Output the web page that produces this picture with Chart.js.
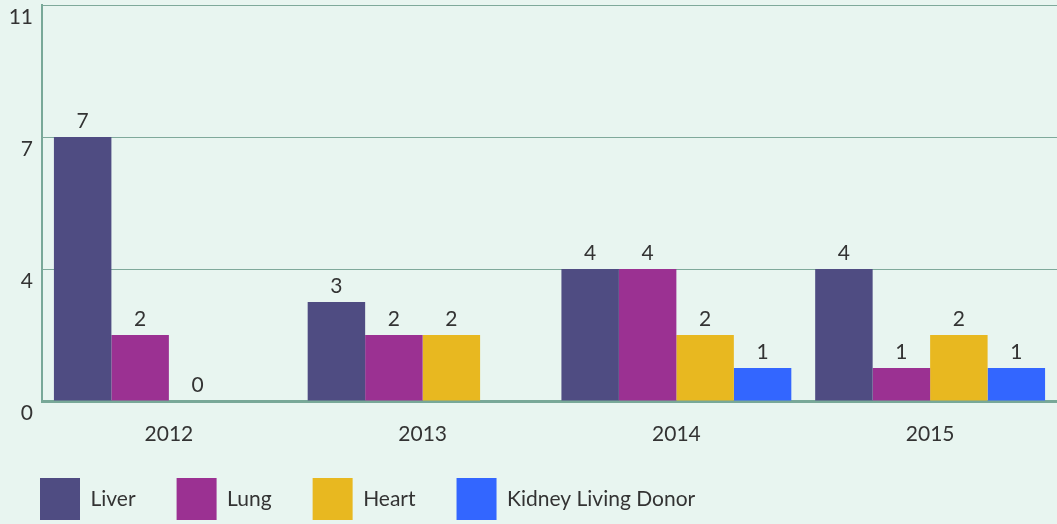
<!DOCTYPE html>
<html>
<head>
<meta charset="utf-8">
<script src="https://cdn.jsdelivr.net/npm/chart.js@4.4.1/dist/chart.umd.min.js"></script>
<style>
    html, body { margin: 0; padding: 0; background: #e8f5f0; }
    #wrap { width: 1057px; height: 524px; position: relative; }
</style>
</head>
<body>
<div id="wrap"><canvas id="transplantChart"></canvas></div>
<script>
const years = ['2012', '2013', '2014', '2015'];
const liver = [7, 3, 4, 4];
const lung = [2, 2, 4, 1];
const heart = [0, 2, 2, 2];
const kidney = [null, null, 1, 1];
const yTicks = [0, 4, 7, 11];

// the y axis spaces its ticks evenly, values between ticks are placed linearly
function toAxis(v) {
    if (v === null) return null;
    for (let i = 1; i < yTicks.length; i++) {
        if (v <= yTicks[i]) {
            return (i - 1) + (v - yTicks[i - 1]) / (yTicks[i] - yTicks[i - 1]);
        }
    }
    return yTicks.length - 1;
}

const font = 'Lato';
const textColor = '#333333';

const valueLabels = {
    id: 'valueLabels',
    afterLayout(chart) {
        // let the year labels draw below the (short) x axis box without being clipped
        chart.scales.x.bottom = chart.height;
    },
    afterDatasetsDraw(chart) {
        const ctx = chart.ctx;
        ctx.save();
        ctx.font = `21px ${font}`;
        ctx.fillStyle = textColor;
        ctx.textAlign = 'center';
        ctx.textBaseline = 'alphabetic';
        chart.data.datasets.forEach((ds, di) => {
            const meta = chart.getDatasetMeta(di);
            meta.data.forEach((bar, i) => {
                const raw = ds.raw[i];
                if (raw === null) return;
                ctx.fillText(String(raw), bar.x, bar.y - 9);
            });
        });
        ctx.restore();
    }
};

function series(label, values, color) {
    return {
        label: label,
        raw: values,
        data: values.map(toAxis),
        backgroundColor: color,
        borderWidth: 0,
        categoryPercentage: 0.906,
        barPercentage: 1.0
    };
}

const ctx = document.getElementById('transplantChart').getContext('2d');
new Chart(ctx, {
    type: 'bar',
    data: {
        labels: years,
        datasets: [
            series('Liver', liver, '#4f4c82'),
            series('Lung', lung, '#9b3192'),
            series('Heart', heart, '#e8b820'),
            series('Kidney Living Donor', kidney, '#3366ff')
        ]
    },
    plugins: [valueLabels],
    options: {
        responsive: true,
        maintainAspectRatio: false,
        animation: false,
        layout: { padding: { top: 5, left: -1, right: 0, bottom: -6 } },
        plugins: {
            tooltip: { enabled: false },
            legend: {
                position: 'bottom',
                align: 'start',
                labels: {
                    boxWidth: 40,
                    boxHeight: 42,
                    padding: 41,
                    color: textColor,
                    font: { family: font, size: 21 }
                }
            }
        },
        scales: {
            x: {
                grid: { display: false },
                border: { color: '#78a898', width: 3 },
                ticks: {
                    color: textColor,
                    padding: 13,
                    font: { family: font, size: 21 }
                },
                afterFit(scale) { scale.height = 36; }
            },
            y: {
                min: 0,
                max: yTicks.length - 1,
                grid: { color: '#7fa99b', lineWidth: 1, drawTicks: false },
                border: { color: '#78a898', width: 2 },
                ticks: {
                    stepSize: 1,
                    padding: 9,
                    labelOffset: 12,
                    color: textColor,
                    font: { family: font, size: 21 },
                    callback: (val) => yTicks[val]
                },
                afterFit(scale) {
                    scale.width = 43;
                    scale.paddingTop = 0;
                    scale.paddingBottom = 0;
                }
            }
        }
    }
});
</script>
</body>
</html>
